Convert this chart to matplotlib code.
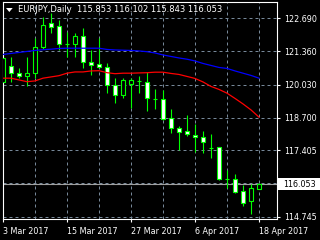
import numpy as np
import pandas as pd
import matplotlib
matplotlib.use("Agg")
import matplotlib.pyplot as plt
from matplotlib.patches import Polygon, Rectangle
from matplotlib.transforms import blended_transform_factory

# daily bars, 3 Mar 2017 .. 18 Apr 2017
dates = pd.bdate_range("2017-03-03", "2017-04-18")

opens = [120.15, 120.78, 120.51, 120.39, 120.50, 121.53, 122.51, 122.38, 121.65, 121.65,
         121.98, 120.94, 120.86, 120.73, 120.02, 119.60, 120.05, 120.19, 120.15, 119.47,
         119.45, 118.69, 118.28, 118.18, 118.02, 117.92, 117.51, 117.52, 116.24, 116.24,
         115.76, 115.39, 115.853]
highs = [121.18, 121.15, 120.69, 121.15, 121.89, 122.75, 122.89, 122.62, 122.14, 122.09,
         122.29, 121.42, 121.89, 120.88, 120.29, 120.29, 120.29, 120.39, 120.54, 119.85,
         119.82, 119.05, 118.38, 118.82, 118.46, 118.19, 118.06, 117.53, 116.61, 116.45,
         116.01, 116.07, 116.102]
lows = [120.02, 120.15, 120.31, 119.98, 120.30, 121.46, 122.09, 121.42, 121.12, 121.15,
        120.69, 120.42, 120.68, 119.69, 119.31, 119.51, 119.10, 119.69, 118.99, 119.06,
        118.62, 118.11, 117.42, 117.98, 117.34, 117.31, 117.08, 116.23, 115.88, 115.69,
        115.19, 114.87, 115.843]
closes = [121.09, 120.49, 120.39, 120.51, 121.53, 122.42, 122.35, 121.65, 121.66, 121.98,
          120.95, 120.83, 120.73, 120.02, 119.60, 120.22, 120.22, 120.19, 119.49, 119.47,
          118.65, 118.28, 118.15, 118.05, 117.92, 117.72, 117.51, 116.24, 116.24, 115.75,
          115.28, 115.88, 116.053]

# moving averages
ma_blue = [121.24, 121.28, 121.32, 121.36, 121.40, 121.43, 121.45, 121.48, 121.49, 121.49,
           121.49, 121.49, 121.49, 121.44, 121.42, 121.41, 121.40, 121.38, 121.35, 121.30,
           121.22, 121.16, 121.10, 121.05, 120.98, 120.88, 120.80, 120.72, 120.68, 120.58,
           120.49, 120.40, 120.29]
ma_red = [120.29, 120.29, 120.22, 120.15, 120.18, 120.29, 120.34, 120.39, 120.49, 120.54,
          120.54, 120.58, 120.59, 120.51, 120.47, 120.49, 120.49, 120.50, 120.51, 120.53,
          120.53, 120.48, 120.44, 120.36, 120.28, 120.14, 119.96, 119.84, 119.69, 119.48,
          119.26, 119.02, 118.73]

price_levels = [122.690, 121.360, 120.030, 118.700, 117.405, 114.745]
grid_levels = [122.690, 121.360, 120.030, 118.700, 117.405, 116.075, 114.745]
date_ticks = [0, 8, 16, 24, 32]
last_price = closes[-1]

lime = "#00ff00"
grid_col = "#778899"

fig = plt.figure(figsize=(3.2, 2.4), dpi=100, facecolor="black")
ax = fig.add_axes([2.5 / 320, 1 - 219.3 / 240, 274.8 / 320, 217.3 / 240])
ax.set_facecolor("black")

x = np.arange(len(dates))
o = np.array(opens)
c = np.array(closes)

# grid
for g in grid_levels:
    ax.axhline(g, color=grid_col, lw=0.72, dashes=(3, 3), zorder=1)
for gx in range(4, 33, 4):
    ax.axvline(gx, color=grid_col, lw=0.72, dashes=(3, 3), zorder=1)

# bid line
ax.axhline(last_price, color="#a0a0a0", lw=0.8, zorder=1.5)

# candles
ax.vlines(x, lows, highs, color=lime, lw=0.8, zorder=2)
bottoms = np.minimum(o, c)
heights = np.abs(c - o)
fills = ["black" if cl > op else "white" for op, cl in zip(o, c)]
ax.bar(x, heights, 0.5, bottom=bottoms, color=fills, edgecolor=lime, linewidth=0.8, zorder=3)

# moving averages
ax.plot(x, ma_blue, color="#0000ff", lw=0.9, zorder=4)
ax.plot(x, ma_red, color="#ff0000", lw=0.9, zorder=4)

ax.set_xlim(-0.06, 34.29)
ax.set_ylim(114.64, 123.34)

for s in ax.spines.values():
    s.set_color("white")
    s.set_linewidth(0.8)

ax.yaxis.tick_right()
ax.set_yticks(price_levels)
ax.set_yticklabels([f"{v:.3f}" for v in price_levels])
ax.set_xticks(date_ticks)
ax.set_xticklabels([f"{dates[i].day} {dates[i].strftime('%b %Y')}" for i in date_ticks],
                   ha="left")
ax.tick_params(colors="white", labelsize=5.8, length=2.2, width=0.8, pad=2.5)
ax.tick_params(axis="x", pad=3)

# current price label on the scale
tr = blended_transform_factory(ax.transAxes, ax.transData)
ax.add_patch(Rectangle((1.002, last_price - 0.25), 0.16, 0.51, transform=tr,
                       facecolor="white", edgecolor="none", clip_on=False, zorder=5))
ax.text(1.0207, last_price, f"{last_price:.3f}", transform=tr, color="black",
        fontsize=5.8, ha="left", va="center", clip_on=False, zorder=6)

# title with small dropdown triangle
tri = [(6 / 320, 1 - 8 / 240), (12.7 / 320, 1 - 8 / 240), (9.3 / 320, 1 - 12 / 240)]
fig.add_artist(Polygon(tri, closed=True, transform=fig.transFigure,
                       facecolor="white", edgecolor="none"))
fig.text(18.3 / 320, 1 - 10 / 240,
         f"EURJPY,Daily  {opens[-1]:.3f} {highs[-1]:.3f} {lows[-1]:.3f} {closes[-1]:.3f}",
         color="white", fontsize=6, ha="left", va="center")

fig.savefig("out.png", dpi=100, facecolor="black")
